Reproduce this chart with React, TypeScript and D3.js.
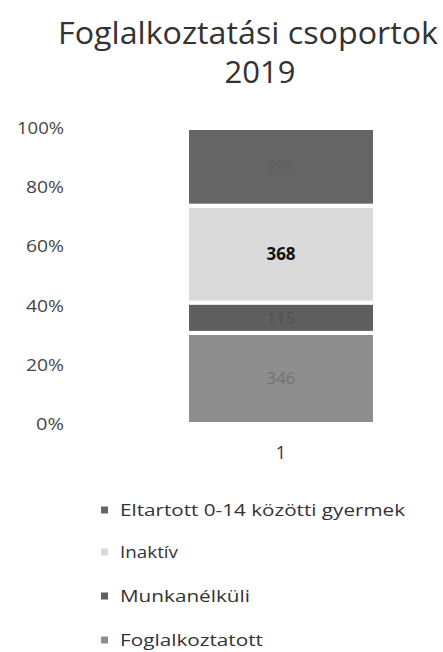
import React from "react";
import * as d3 from "d3";

const categories = ["1"];
const seriesNames = ["Foglalkoztatott", "Munkanélküli", "Inaktív", "Eltartott 0-14 közötti gyermek"];
const seriesValues = [346, 115, 368, 295];
const seriesColors = ["#8e8e8e", "#5f5f5f", "#dadada", "#656565"];
const labelColors = ["#727272", "#505050", "#111111", "#5e5e5e"];
const labelWeights = ["normal", "normal", "bold", "normal"];
const yTicks = [0, 0.2, 0.4, 0.6, 0.8, 1];
const titleLines = ["Foglalkoztatási csoportok", "2019"];
const legendOrder = [3, 2, 1, 0];

const W = 443;
const H = 652;
const FONT = "'Open Sans', 'DejaVu Sans', sans-serif";

export default function App() {
  const y = d3.scaleLinear().domain([0, 1]).range([424, 128]);
  const x = d3
    .scaleBand<string>()
    .domain(categories)
    .range([140, 422])
    .paddingInner(0)
    .paddingOuter(0.25);

  const row: Record<string, number | string> = { cat: categories[0] };
  seriesNames.forEach((n, i) => (row[n] = seriesValues[i]));
  const stacked = d3
    .stack<any>()
    .keys(seriesNames)
    .offset(d3.stackOffsetExpand)([row]);

  const legendY = [510, 552, 596, 640];
  const legendLens = [285, 58, 130, 143];

  return (
    <svg
      width={W}
      height={H}
      style={{ position: "absolute", left: 0, top: 0, background: "#fff" }}
      fontFamily={FONT}
    >
      <rect x={0} y={0} width={W} height={H} fill="#fff" />
      {/* Title */}
      <text x={58} y={44} fontSize={31} fill="#333" textLength={380} lengthAdjust="spacingAndGlyphs">
        {titleLines[0]}
      </text>
      <text x={260} y={83} fontSize={31} fill="#333" textAnchor="middle">
        {titleLines[1]}
      </text>

      {/* Y axis labels */}
      {yTicks.map((t) => {
        const label = d3.format(".0%")(t);
        const len = label.length === 4 ? 47 : label.length === 3 ? 38 : 28;
        return (
          <text
            key={t}
            x={64 - len}
            y={y(t) + 6}
            fontSize={17}
            fill="#444"
            textLength={len}
            lengthAdjust="spacingAndGlyphs"
          >
            {label}
          </text>
        );
      })}

      {/* Bars */}
      {stacked.map((s, i) =>
        s.map((d, j) => {
          const x0 = x(categories[j]) as number;
          const bw = x.bandwidth();
          const y0 = y(d[1]);
          const y1 = y(d[0]);
          return (
            <g key={`${i}-${j}`}>
              <rect
                x={x0}
                y={y0}
                width={bw}
                height={y1 - y0}
                fill={seriesColors[i]}
                stroke="#fff"
                strokeWidth={4}
              />
              <text
                x={x0 + bw / 2}
                y={(y0 + y1) / 2 + 6}
                textAnchor="middle"
                fontSize={17}
                fontWeight={labelWeights[i] as any}
                fill={labelColors[i]}
              >
                {seriesValues[i]}
              </text>
            </g>
          );
        })
      )}

      {/* X axis label */}
      {categories.map((c) => (
        <text
          key={c}
          x={(x(c) as number) + x.bandwidth() / 2}
          y={459}
          textAnchor="middle"
          fontSize={18}
          fill="#333"
        >
          {c}
        </text>
      ))}

      {/* Legend */}
      {legendOrder.map((si, k) => (
        <g key={si}>
          <rect x={101} y={legendY[k] - 3.5} width={7} height={7} fill={seriesColors[si]} />
          <text
            x={120}
            y={legendY[k] + 6}
            fontSize={17}
            fill="#333"
            textLength={legendLens[k]}
            lengthAdjust="spacingAndGlyphs"
          >
            {seriesNames[si]}
          </text>
        </g>
      ))}
    </svg>
  );
}
